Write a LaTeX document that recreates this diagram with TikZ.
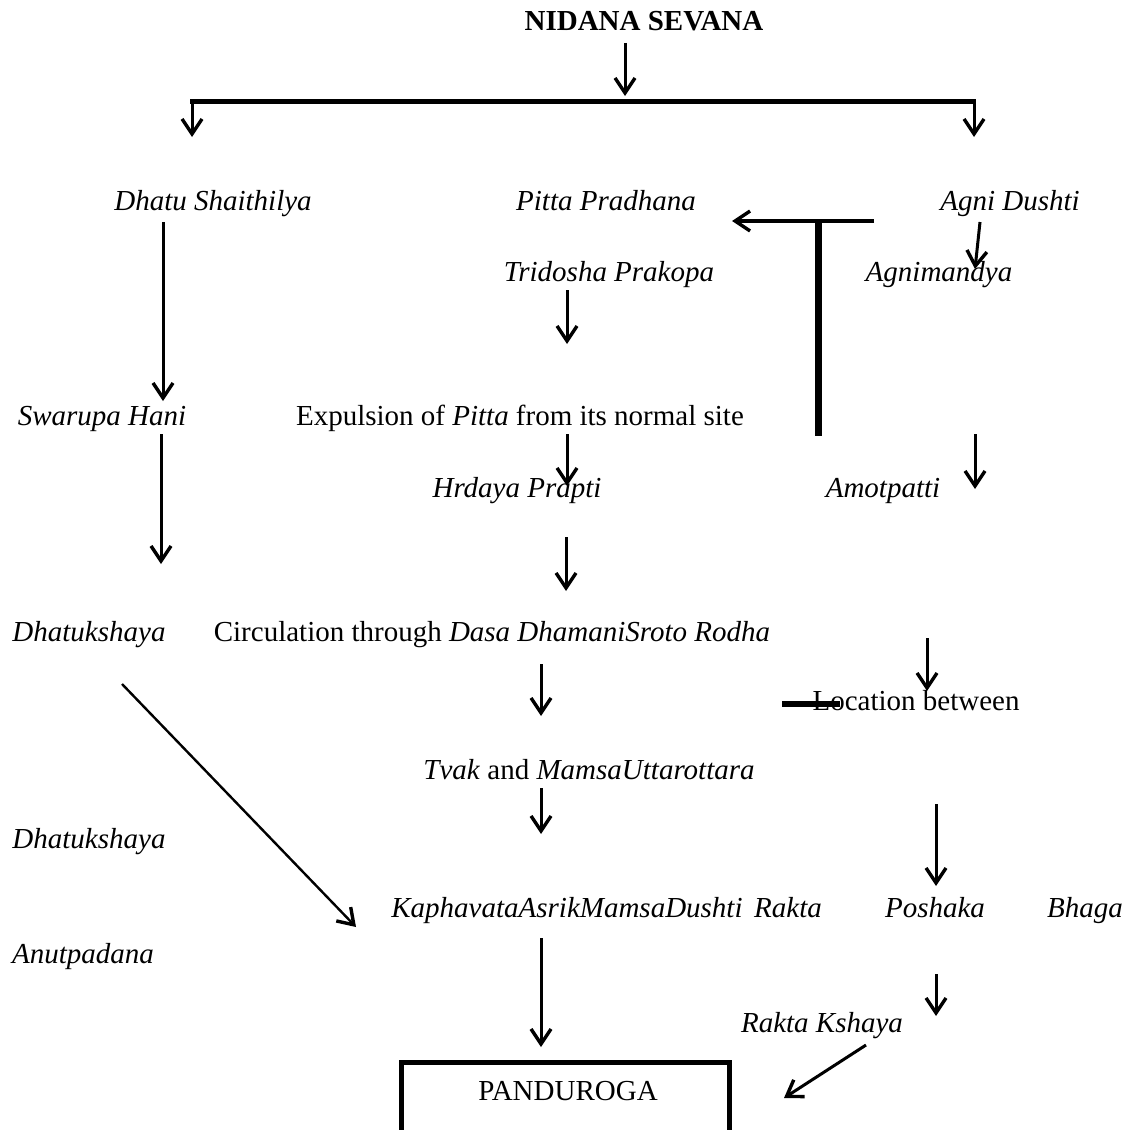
\documentclass[tikz,border=0pt]{standalone}
\usepackage{fontspec}
\setmainfont{Liberation Serif}
\usepackage{tikz}
\usetikzlibrary{arrows.meta}

\begin{document}
\begin{tikzpicture}[x=0.5pt, y=-0.5pt,
    txt/.style={font=\fontsize{14.5}{17}\selectfont, inner sep=0pt, text height=10pt, text depth=3pt, yshift=-1.5pt},
    term/.style={txt, font=\fontsize{14.5}{17}\selectfont\itshape},
    flow/.style={line width=1.5pt, -{Straight Barb[length=7.5pt,width=10pt,line width=1.7pt]}},
    bar/.style={line width=2.5pt}]

%      \fill[white] (0,0) rectangle (1133,1129);
      \useasboundingbox (0,0) rectangle (1133,1129);

      \node[txt, font=\fontsize{14.5}{17}\selectfont\bfseries] (nidana) at (644,21) {NIDANA SEVANA};
      \node[term] (shaithilya) at (213,200) {Dhatu Shaithilya};
      \node[term] (pradhana) at (606,200) {Pitta Pradhana};
      \node[term] (dushti) at (1010,200) {Agni Dushti};
      \node[term] (prakopa) at (609,271) {Tridosha Prakopa};
      \node[term] (agnimandya) at (939,271) {Agnimandya};
      \node[term] (swarupa) at (102,415) {Swarupa Hani};
      \node[txt] (expulsion) at (520,415) {Expulsion of \textit{Pitta} from its normal site};
      \node[term] (hrdaya) at (517,487) {Hrdaya Prapti};
      \node[term] (amotpatti) at (883,487) {Amotpatti};
      \node[term] (kshayaA) at (89,631) {Dhatukshaya};
      \node[txt] (circulation) at (492,631) {Circulation through \textit{Dasa DhamaniSroto Rodha}};
      \node[txt] (location) at (916,700) {Location between};
      \node[txt] (tvak) at (589,769) {\textit{Tvak} and \textit{MamsaUttarottara}};
      \node[term] (kshayaB) at (89,838) {Dhatukshaya};
      \node[term] (mamsadushti) at (567,907) {KaphavataAsrikMamsaDushti};
      \node[term] (rakta) at (788,907) {Rakta};
      \node[term] (poshaka) at (935,907) {Poshaka};
      \node[term] (bhaga) at (1085,907) {Bhaga};
      \node[term] (anutpadana) at (83,953) {Anutpadana};
      \node[term] (raktakshaya) at (822,1022) {Rakta Kshaya};
      \node[txt] (panduroga) at (568,1090) {PANDUROGA};

      % free ends of the arrows
      \coordinate (top1) at (625,43);   \coordinate (top2) at (625,96);
      \coordinate (barL) at (190,102);  \coordinate (barR) at (976,102);
      \coordinate (l1) at (192,137);    \coordinate (r1) at (974,137);
      \coordinate (s1) at (163,222);    \coordinate (s2) at (163,401);
      \coordinate (p1) at (874,221);    \coordinate (p2) at (732,221);
      \coordinate (t1) at (818,222);    \coordinate (t2) at (818,436);
      \coordinate (d1) at (980,222);    \coordinate (d2) at (975,269);
      \coordinate (k1) at (567,290);    \coordinate (k2) at (567,344);
      \coordinate (h1) at (161,434);    \coordinate (h2) at (161,564);
      \coordinate (e1) at (567,434);    \coordinate (e2) at (567,486);
      \coordinate (a1) at (975,434);    \coordinate (a2) at (975,489);
      \coordinate (c1) at (566,537);    \coordinate (c2) at (566,591);
      \coordinate (x1) at (122,684);    \coordinate (x2) at (356,927);
      \coordinate (v1) at (541,664);    \coordinate (v2) at (541,716);
      \coordinate (o1) at (927,638);    \coordinate (o2) at (927,691);
      \coordinate (q1) at (782,704);    \coordinate (q2) at (840,704);
      \coordinate (m1) at (541,788);    \coordinate (m2) at (541,834);
      \coordinate (g1) at (936,804);    \coordinate (g2) at (936,886);
      \coordinate (u1) at (541,938);    \coordinate (u2) at (541,1047);
      \coordinate (b1) at (936,974);    \coordinate (b2) at (936,1016);
      \coordinate (z1) at (866,1045);   \coordinate (z2) at (784,1098);
      \coordinate (boxA) at (401,1062); \coordinate (boxB) at (729,1150);

      \draw[flow] (top1) -- (top2);
      \draw[bar] (barL) -- (barR);
      \draw[flow] (barL -| l1) -- (l1);
      \draw[flow] (barR -| r1) -- (r1);
      \draw[flow] (s1) -- (s2);
      \draw[flow, line width=1.7pt] (p1) -- (p2);
      \draw[line width=3.5pt] (t1) -- (t2);
      \draw[flow] (d1) -- (d2);
      \draw[flow] (k1) -- (k2);
      \draw[flow] (h1) -- (h2);
      \draw[flow] (e1) -- (e2);
      \draw[flow] (a1) -- (a2);
      \draw[flow] (c1) -- (c2);
      \draw[flow, line width=1.2pt] (x1) -- (x2);
      \draw[flow] (v1) -- (v2);
      \draw[flow] (o1) -- (o2);
      \draw[line width=3pt] (q1) -- (q2);
      \draw[flow] (m1) -- (m2);
      \draw[flow] (g1) -- (g2);
      \draw[flow] (u1) -- (u2);
      \draw[flow] (b1) -- (b2);
      \draw[flow] (z1) -- (z2);
      \draw[bar] (boxA) rectangle (boxB);
\end{tikzpicture}
\end{document}
